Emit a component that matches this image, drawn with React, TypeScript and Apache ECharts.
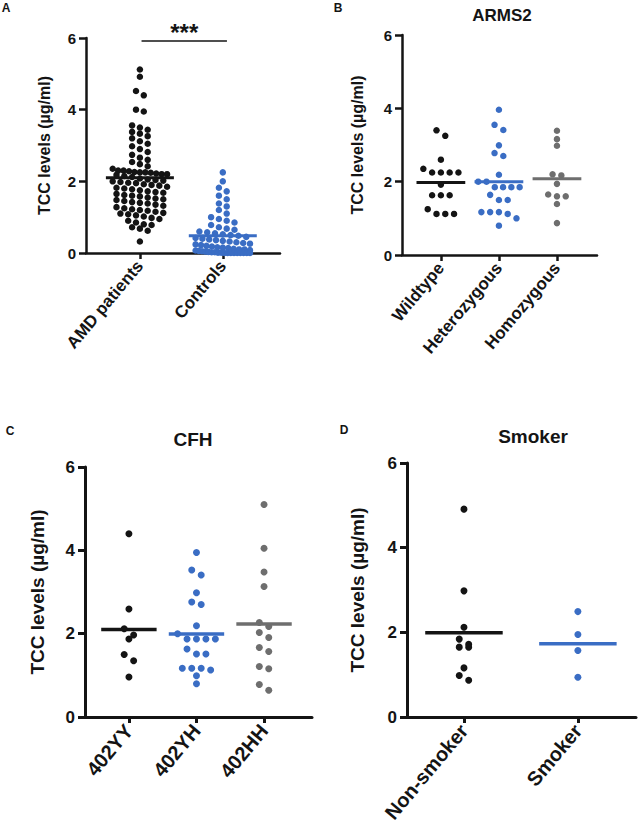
import React, { useEffect, useRef } from "react";
import * as echarts from "echarts";

// ---------- data ----------
const catA = ["AMD patients", "Controls"];
const amdPatients = [
  5.12, 4.92, 4.52, 4.4, 4.0, 3.95, 3.56, 3.5, 3.44, 3.38, 3.33, 3.26, 3.2, 3.12, 3.05, 2.98, 2.9,
  2.82, 2.74, 2.66, 2.6, 2.54, 2.48, 2.42,
  2.35, 2.3, 2.3, 2.28, 2.26, 2.25, 2.25, 2.24, 2.22, 2.2, 2.2, 2.18, 2.15, 2.12,
  2.08, 2.05, 2.04, 2.02, 2.0, 1.98, 1.96, 1.95, 1.92, 1.9, 1.88,
  1.85, 1.82, 1.8, 1.78, 1.75, 1.72, 1.7, 1.68, 1.65, 1.62, 1.6,
  1.58, 1.55, 1.52, 1.5, 1.48, 1.45, 1.42, 1.4, 1.38, 1.35, 1.32,
  1.28, 1.25, 1.22, 1.2, 1.18, 1.15, 1.12, 1.1, 1.08, 1.05, 1.02,
  0.98, 0.95, 0.9, 0.85, 0.8, 0.78, 0.72, 0.68, 0.62, 0.32,
];
const controls = [
  2.25, 2.0, 1.82, 1.72, 1.6, 1.5, 1.38, 1.3, 1.2, 1.1, 1.0,
  0.95, 0.9, 0.85, 0.78, 0.72, 0.68, 0.65, 0.6, 0.58, 0.55, 0.52, 0.5,
  0.48, 0.45, 0.42, 0.4, 0.38, 0.36, 0.34, 0.32, 0.3, 0.28, 0.26, 0.24, 0.22, 0.2,
  0.18, 0.16, 0.15, 0.14, 0.12, 0.1, 0.1, 0.08, 0.07, 0.06, 0.05, 0.04, 0.03, 0.02, 0.02, 0.01, 0.01,
  0, 0, 0, 0, 0, 0, 0, 0, 0,
];
const meansA = [2.1, 0.48];

const catB = ["Wildtype", "Heterozygous", "Homozygous"];
const armsWildtype = [3.4, 3.25, 2.6, 2.35, 2.25, 2.25, 2.25, 2.25, 1.92, 1.63, 1.63, 1.63, 1.25, 1.12, 1.12, 1.12];
const armsHetero = [3.96, 3.55, 3.41, 2.99, 2.78, 2.7, 2.19, 2.0, 2.0, 1.85, 1.85, 1.85, 1.85, 1.64, 1.5, 1.5, 1.17, 1.17, 1.17, 1.12, 1.0, 0.8];
const armsHomo = [3.39, 3.16, 2.98, 2.2, 2.17, 1.94, 1.65, 1.6, 1.6, 1.39, 0.87];
const meansB = [1.98, 2.0, 2.08];

const catC = ["402YY", "402YH", "402HH"];
const cfhYY = [4.4, 2.59, 2.12, 1.97, 1.87, 1.5, 1.35, 0.96];
const cfhYH = [3.95, 3.53, 3.41, 2.98, 2.76, 2.7, 2.19, 2.0, 1.87, 1.87, 1.87, 1.87, 1.63, 1.51, 1.51, 1.17, 1.17, 1.17, 1.13, 0.99, 0.8];
const cfhHH = [5.1, 4.05, 3.48, 3.13, 2.27, 2.17, 2.03, 1.91, 1.67, 1.57, 1.21, 1.16, 0.78, 0.64];
const meansC = [2.1, 1.99, 2.23];

const catD = ["Non-smoker", "Smoker"];
const nonSmoker = [4.91, 2.98, 2.12, 1.84, 1.72, 1.65, 1.65, 1.16, 0.98, 0.87];
const smoker = [2.49, 1.95, 1.57, 0.94];
const meansD = [1.99, 1.73];

const yTicks = [0, 2, 4, 6];
const titles = ["", "ARMS2", "CFH", "Smoker"];
const letters = ["A", "B", "C", "D"];

// ---------- styling ----------
const BLACK = "#141414";
const BLUE = "#3a6dc4";
const GRAY = "#6e6e6e";
const FONT = "'Liberation Sans', Arial, sans-serif";

type Panel = {
  grid: { left: number; top: number; width: number; height: number };
  xMin: number; xMax: number;
  cats: string[];
  groups: number[][];
  colors: string[];
  means: number[];
  halfW: number;
  tickFs: number; nameFs: number; labelFs: number; nameGap: number;
  axisW: number; meanW: number; sym: number; spread: number; rowF: number; stepF: number;
};

const panels: Panel[] = [
  {
    grid: { left: 86, top: 38, width: 194, height: 215 }, xMin: 0.35, xMax: 2.69,
    cats: catA, groups: [amdPatients, controls], colors: [BLACK, BLUE], means: meansA, halfW: 0.41,
    tickFs: 15, nameFs: 16, labelFs: 17, nameGap: 34, axisW: 2.5, meanW: 3, sym: 6.5, spread: 0.8, rowF: 0.9, stepF: 1.2,
  },
  {
    grid: { left: 402, top: 35, width: 195, height: 220 }, xMin: 0.33, xMax: 3.69,
    cats: catB, groups: [armsWildtype, armsHetero, armsHomo], colors: [BLACK, BLUE, GRAY], means: meansB, halfW: 0.42,
    tickFs: 15, nameFs: 16, labelFs: 17, nameGap: 37, axisW: 2.5, meanW: 3, sym: 6.5, spread: 0.85, rowF: 1, stepF: 1.35,
  },
  {
    grid: { left: 85, top: 467, width: 227, height: 250 }, xMin: 0.35, xMax: 3.71,
    cats: catC, groups: [cfhYY, cfhYH, cfhHH], colors: [BLACK, BLUE, GRAY], means: meansC, halfW: 0.41,
    tickFs: 17, nameFs: 19, labelFs: 20, nameGap: 38, axisW: 3, meanW: 3.5, sym: 7, spread: 0.85, rowF: 1, stepF: 1.35,
  },
  {
    grid: { left: 407, top: 463, width: 229, height: 254 }, xMin: 0.5, xMax: 2.51,
    cats: catD, groups: [nonSmoker, smoker], colors: [BLACK, BLUE], means: meansD, halfW: 0.34,
    tickFs: 17, nameFs: 19, labelFs: 20, nameGap: 40, axisW: 3, meanW: 3.5, sym: 7, spread: 0.7, rowF: 1, stepF: 1.35,
  },
];

// row-binned dot layout (pixel offsets) computed from values, GraphPad style
function rowOffsets(values: number[], yppu: number, rowH: number, step: number, maxW: number): number[] {
  const order = values.map((_, i) => i).sort((a, b) => values[b] - values[a]);
  const out = new Array(values.length).fill(0);
  let row: number[] = [];
  const flush = () => {
    const n = row.length;
    if (!n) return;
    const sp = n > 1 ? Math.min(step, maxW / (n - 1)) : 0;
    row.forEach((idx, k) => {
      out[idx] = (k - (n - 1) / 2) * sp;
    });
    row = [];
  };
  let top = Infinity;
  for (const i of order) {
    const y = values[i] * yppu;
    if (row.length && top - y > rowH) flush();
    if (!row.length) top = y;
    row.push(i);
  }
  flush();
  return out;
}

function buildOption() {
  const grid: any[] = [];
  const xAxis: any[] = [];
  const yAxis: any[] = [];
  const series: any[] = [];
  const graphic: any[] = [];

  panels.forEach((p, pi) => {
    grid.push({ ...p.grid, containLabel: false });
    const xppu = p.grid.width / (p.xMax - p.xMin);
    const yppu = p.grid.height / 6;
    const centers = p.cats.map((_, i) => i + 1);
    xAxis.push({
      gridIndex: pi, type: "value", min: p.xMin, max: p.xMax,
      axisLine: { show: true, onZero: false, lineStyle: { color: BLACK, width: p.axisW } },
      axisTick: { show: true, customValues: centers, length: 6, lineStyle: { color: BLACK, width: p.axisW } },
      axisLabel: {
        show: true, customValues: centers, rotate: 50, margin: 10,
        formatter: (v: number) => p.cats[Math.round(v) - 1] ?? "",
        fontSize: p.labelFs, fontWeight: "bold", color: BLACK, fontFamily: FONT,
      },
      splitLine: { show: false },
    });
    yAxis.push({
      gridIndex: pi, type: "value", min: 0, max: 6, interval: 2,
      name: "TCC levels (µg/ml)", nameLocation: "middle", nameGap: p.nameGap,
      nameTextStyle: { fontSize: p.nameFs, fontWeight: "bold", color: BLACK, fontFamily: FONT },
      axisLine: { show: true, lineStyle: { color: BLACK, width: p.axisW } },
      axisTick: { show: true, length: 7, lineStyle: { color: BLACK, width: p.axisW } },
      axisLabel: {
        show: true, margin: 10, fontSize: p.tickFs, fontWeight: "bold", color: BLACK, fontFamily: FONT,
        formatter: (v: number) => (yTicks.includes(v) ? String(v) : ""),
      },
      splitLine: { show: false },
    });

    const maxW = 2 * p.halfW * xppu * p.spread;
    p.groups.forEach((vals, gi) => {
      const offs = rowOffsets(vals, yppu, p.sym * p.rowF, p.sym * p.stepF, maxW);
      const c = centers[gi];
      const s: any = {
        type: "scatter", xAxisIndex: pi, yAxisIndex: pi, clip: false,
        symbolSize: p.sym, itemStyle: { color: p.colors[gi], opacity: 1 }, z: 3,
        data: vals.map((v, i) => [c + offs[i] / xppu, v]),
      };
      if (pi === 0 && gi === 0) {
        s.markLine = {
          silent: true, symbol: ["none", "none"],
          lineStyle: { color: BLACK, width: 1.5, type: "solid", opacity: 1 },
          label: {
            show: true, position: "middle", formatter: "***", fontSize: 24, fontWeight: "bold",
            color: BLACK, fontFamily: FONT, distance: -4,
          },
          data: [[{ coord: [1.02, 5.93] }, { coord: [2.05, 5.93] }]],
        };
      }
      series.push(s);
      series.push({
        type: "line", xAxisIndex: pi, yAxisIndex: pi, symbol: "none", z: 4,
        lineStyle: { color: p.colors[gi], width: p.meanW }, clip: false,
        data: [[c - p.halfW, p.means[gi]], [c + p.halfW, p.means[gi]]],
      });
    });
  });

  const letterPos = [[6, 8], [338, 8], [10, 431], [344, 430]];
  letters.forEach((l, i) => {
    graphic.push({
      type: "text", x: letterPos[i][0], y: letterPos[i][1],
      style: { text: l, fontSize: 12, fontWeight: "bold", fontFamily: FONT, fill: BLACK, align: "center", verticalAlign: "middle" },
    });
  });
  const titlePos = [[0, 0], [502, 15], [193, 439], [533, 436]];
  const titleFs = [0, 17, 19, 19];
  titles.forEach((t, i) => {
    if (!t) return;
    graphic.push({
      type: "text", x: titlePos[i][0], y: titlePos[i][1],
      style: { text: t, fontSize: titleFs[i], fontWeight: "bold", fontFamily: FONT, fill: BLACK, align: "center", verticalAlign: "middle" },
    });
  });

  return { animation: false, backgroundColor: "#ffffff", grid, xAxis, yAxis, series, graphic };
}

export default function App() {
  const ref = useRef<HTMLDivElement>(null);
  useEffect(() => {
    if (!ref.current) return;
    const chart = echarts.init(ref.current, undefined, { renderer: "svg" });
    chart.setOption(buildOption() as any);
    return () => chart.dispose();
  }, []);
  return <div ref={ref} style={{ position: "absolute", left: 0, top: 0, width: 643, height: 833 }} />;
}
